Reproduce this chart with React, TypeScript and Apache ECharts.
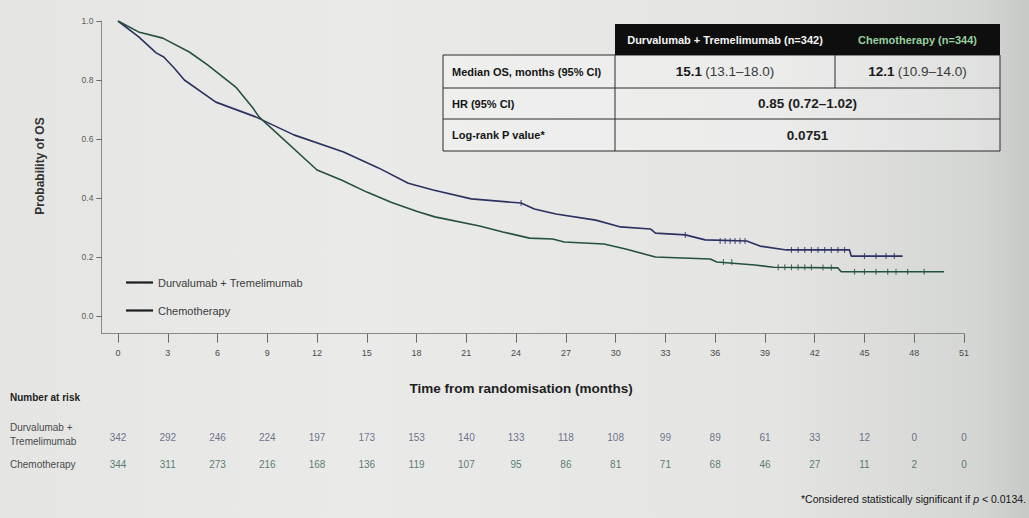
import { useEffect, useRef } from "react";
import * as echarts from "echarts";

const FONT = "'Liberation Sans', Arial, sans-serif";
const NAVY = "#2b3160";
const GREEN = "#24513f";

// Axis ticks (months / probability)
const timeTicks = [0, 3, 6, 9, 12, 15, 18, 21, 24, 27, 30, 33, 36, 39, 42, 45, 48, 51];
const probTicks = [0, 0.2, 0.4, 0.6, 0.8, 1.0];

// Kaplan–Meier overall survival, Durvalumab + Tremelimumab
const dtTime = [0, 1.25, 2.3, 2.76, 3.4, 4.0, 5.9, 8.3, 10.6, 13.6, 15.7, 17.5, 19.0, 21.3, 24.3, 25.1, 26.4, 28.8, 30.3, 32.1, 32.4, 34.2, 35.4, 37.9, 38.7, 40.3, 44.1, 44.2, 47.3];
const dtSurv = [1.0, 0.946, 0.892, 0.878, 0.84, 0.8, 0.725, 0.675, 0.614, 0.556, 0.502, 0.45, 0.427, 0.397, 0.383, 0.363, 0.346, 0.325, 0.302, 0.295, 0.281, 0.275, 0.258, 0.254, 0.237, 0.224, 0.224, 0.203, 0.203];

// Kaplan–Meier overall survival, Chemotherapy
const chTime = [0, 1.24, 2.7, 4.3, 5.4, 7.1, 8.1, 8.5, 12.0, 13.5, 15.0, 16.5, 18.0, 19.1, 21.8, 23.2, 24.8, 26.2, 26.9, 29.3, 30.6, 32.4, 35.7, 36.1, 38.4, 39.5, 43.4, 43.6, 49.8];
const chSurv = [1.0, 0.963, 0.942, 0.895, 0.851, 0.776, 0.708, 0.675, 0.495, 0.46, 0.42, 0.385, 0.355, 0.336, 0.305, 0.285, 0.264, 0.261, 0.251, 0.244, 0.227, 0.2, 0.193, 0.183, 0.173, 0.165, 0.163, 0.15, 0.15];

// Censoring marks
const dtCensorTime = [24.3, 34.2, 36.3, 36.6, 36.9, 37.2, 37.5, 37.8, 40.6, 41.0, 41.4, 41.8, 42.2, 42.6, 43.0, 43.4, 43.8, 45.0, 45.7, 46.3, 46.8];
const dtCensorSurv = [0.383, 0.275, 0.254, 0.254, 0.254, 0.254, 0.254, 0.254, 0.224, 0.224, 0.224, 0.224, 0.224, 0.224, 0.224, 0.224, 0.224, 0.203, 0.203, 0.203, 0.203];
const chCensorTime = [36.5, 37.0, 39.8, 40.2, 40.6, 41.0, 41.4, 41.8, 42.5, 43.0, 44.4, 45.0, 45.7, 46.4, 46.9, 47.6, 48.6];
const chCensorSurv = [0.183, 0.183, 0.165, 0.165, 0.165, 0.165, 0.165, 0.165, 0.164, 0.164, 0.15, 0.15, 0.15, 0.15, 0.15, 0.15, 0.15];

// Number at risk
const dtAtRisk = [342, 292, 246, 224, 197, 173, 153, 140, 133, 118, 108, 99, 89, 61, 33, 12, 0, 0];
const chAtRisk = [344, 311, 273, 216, 168, 136, 119, 107, 95, 86, 81, 71, 68, 46, 27, 11, 2, 0];

const DT_NAME = "Durvalumab + Tremelimumab";
const CH_NAME = "Chemotherapy";

const pairs = (xs: number[], ys: number[]) => xs.map((x, i) => [x, ys[i]]);

function tableGraphics() {
  const L = 443, C1 = 615, C2 = 835, R = 1000;
  const HT = 24, T = 55, R1 = 88, R2 = 119, B = 151;
  const stroke = { stroke: "#2a2a2a", lineWidth: 1 };
  const txt = (x: number, y: number, text: string, extra: any = {}) => ({
    type: "text",
    x,
    y,
    style: {
      text,
      fontFamily: FONT,
      fontSize: 11,
      fill: "#151515",
      textVerticalAlign: "middle",
      ...extra,
    },
  });
  const rich = {
    b: { fontFamily: FONT, fontSize: 13.5, fontWeight: "bold", fill: "#1a1a1a" },
    n: { fontFamily: FONT, fontSize: 13.5, fill: "#3a3a3a" },
  };
  return [
    { type: "rect", shape: { x: L, y: T, width: R - L, height: B - T }, style: { fill: "rgba(255,255,255,0.28)", ...stroke } },
    { type: "rect", shape: { x: C1, y: HT, width: R - C1, height: T - HT }, style: { fill: "#0e0e0e" } },
    { type: "line", shape: { x1: L, y1: R1, x2: R, y2: R1 }, style: stroke },
    { type: "line", shape: { x1: L, y1: R2, x2: R, y2: R2 }, style: stroke },
    { type: "line", shape: { x1: C1, y1: T, x2: C1, y2: B }, style: stroke },
    { type: "line", shape: { x1: C2, y1: T, x2: C2, y2: R1 }, style: stroke },
    txt((C1 + C2) / 2, (HT + T) / 2, "Durvalumab + Tremelimumab (n=342)", { fill: "#f4f4f4", fontWeight: "bold", textAlign: "center" }),
    txt((C2 + R) / 2, (HT + T) / 2, "Chemotherapy (n=344)", { fill: "#98cf9f", fontWeight: "bold", textAlign: "center" }),
    txt(L + 9, (T + R1) / 2, "Median OS, months (95% CI)", { fontWeight: "bold" }),
    txt(L + 9, (R1 + R2) / 2, "HR (95% CI)", { fontWeight: "bold" }),
    txt(L + 9, (R2 + B) / 2, "Log-rank P value*", { fontWeight: "bold" }),
    txt((C1 + C2) / 2, (T + R1) / 2, "{b|15.1} {n|(13.1–18.0)}", { textAlign: "center", rich }),
    txt((C2 + R) / 2, (T + R1) / 2, "{b|12.1} {n|(10.9–14.0)}", { textAlign: "center", rich }),
    txt((C1 + R) / 2, (R1 + R2) / 2, "0.85 (0.72–1.02)", { textAlign: "center", fontSize: 13.5, fontWeight: 600, fill: "#1e1e1e" }),
    txt((C1 + R) / 2, (R2 + B) / 2, "0.0751", { textAlign: "center", fontSize: 13.5, fontWeight: 600, fill: "#1e1e1e" }),
  ];
}

export default function App() {
  const ref = useRef<HTMLDivElement>(null);

  useEffect(() => {
    if (!ref.current) return;
    const chart = echarts.init(ref.current, undefined, { renderer: "svg" });
    const gridLeft = 101.4;
    const gridRight = 65;

    const riskLabel = (color: string) => ({
      show: true,
      position: "inside",
      formatter: (p: any) => String(p.value[2]),
      fontFamily: FONT,
      fontSize: 10,
      color,
    });

    chart.setOption({
      animation: false,
      backgroundColor: "transparent",
      textStyle: { fontFamily: FONT },
      legend: {
        data: [DT_NAME, CH_NAME],
        orient: "vertical",
        left: 121,
        top: 272,
        itemWidth: 27,
        itemHeight: 2.2,
        itemGap: 17,
        icon: "rect",
        itemStyle: { color: "#1b1b1b" },
        textStyle: { fontFamily: FONT, fontSize: 11, color: "#3c3c3c" },
        selectedMode: false,
      },
      grid: [
        { left: gridLeft, right: gridRight, top: 21, bottom: 184.3 },
        { left: gridLeft, right: gridRight, top: 437, height: 27 },
      ],
      xAxis: [
        {
          type: "value",
          gridIndex: 0,
          min: -1,
          max: 51,
          axisLine: { show: true, onZero: false, lineStyle: { color: "#8a8a8a", width: 1 } },
          axisTick: { show: true, customValues: timeTicks, length: 9, lineStyle: { color: "#6a6a6a" } },
          axisLabel: { customValues: timeTicks, margin: 15, fontSize: 9, color: "#4a4a4a", fontFamily: FONT },
          splitLine: { show: false },
        },
        { type: "value", gridIndex: 1, min: -1, max: 51, show: false },
      ],
      yAxis: [
        {
          type: "value",
          gridIndex: 0,
          min: -0.06,
          max: 1,
          axisLine: { show: true, onZero: false, lineStyle: { color: "#8a8a8a", width: 1 } },
          axisTick: { show: true, customValues: probTicks, length: 5, lineStyle: { color: "#6a6a6a" } },
          axisLabel: {
            customValues: probTicks,
            margin: 8,
            fontSize: 8.5,
            color: "#5a5a5a",
            fontFamily: FONT,
            formatter: (v: number) => v.toFixed(1),
          },
          splitLine: { show: false },
        },
        { type: "value", gridIndex: 1, min: 0, max: 1, show: false },
      ],
      series: [
        {
          name: DT_NAME,
          type: "line",
          data: pairs(dtTime, dtSurv),
          showSymbol: false,
          lineStyle: { color: NAVY, width: 1.6 },
          itemStyle: { color: NAVY },
          z: 3,
        },
        {
          name: CH_NAME,
          type: "line",
          data: pairs(chTime, chSurv),
          showSymbol: false,
          lineStyle: { color: GREEN, width: 1.6 },
          itemStyle: { color: GREEN },
          z: 3,
        },
        {
          name: "dtCensor",
          type: "scatter",
          data: pairs(dtCensorTime, dtCensorSurv),
          symbol: "rect",
          symbolSize: [1.1, 6],
          itemStyle: { color: NAVY },
          z: 4,
        },
        {
          name: "chCensor",
          type: "scatter",
          data: pairs(chCensorTime, chCensorSurv),
          symbol: "rect",
          symbolSize: [1.1, 6],
          itemStyle: { color: GREEN },
          z: 4,
        },
        {
          name: "dtRisk",
          type: "scatter",
          xAxisIndex: 1,
          yAxisIndex: 1,
          data: timeTicks.map((t, i) => [t, 1, dtAtRisk[i]]),
          symbolSize: 1,
          itemStyle: { color: "transparent" },
          label: riskLabel("#4a4f6e"),
        },
        {
          name: "chRisk",
          type: "scatter",
          xAxisIndex: 1,
          yAxisIndex: 1,
          data: timeTicks.map((t, i) => [t, 0, chAtRisk[i]]),
          symbolSize: 1,
          itemStyle: { color: "transparent" },
          label: riskLabel("#2f5d50"),
        },
      ],
      graphic: [
        ...tableGraphics(),
        {
          type: "text",
          x: 40,
          y: 166,
          rotation: Math.PI / 2,
          style: {
            text: "Probability of OS",
            fontFamily: FONT,
            fontSize: 12,
            fontWeight: "bold",
            fill: "#333",
            textAlign: "center",
            textVerticalAlign: "middle",
          },
        },
        {
          type: "text",
          x: 521,
          y: 388,
          style: {
            text: "Time from randomisation (months)",
            fontFamily: FONT,
            fontSize: 13.5,
            fontWeight: "bold",
            fill: "#1e1e1e",
            textAlign: "center",
            textVerticalAlign: "middle",
          },
        },
        {
          type: "text",
          x: 10,
          y: 397,
          style: { text: "Number at risk", fontFamily: FONT, fontSize: 10, fontWeight: "bold", fill: "#222", textVerticalAlign: "middle" },
        },
        {
          type: "text",
          x: 10,
          y: 427,
          style: { text: "Durvalumab +", fontFamily: FONT, fontSize: 10, fill: "#4a4a4a", textVerticalAlign: "middle" },
        },
        {
          type: "text",
          x: 10,
          y: 441,
          style: { text: "Tremelimumab", fontFamily: FONT, fontSize: 10, fill: "#4a4a4a", textVerticalAlign: "middle" },
        },
        {
          type: "text",
          x: 10,
          y: 464,
          style: { text: "Chemotherapy", fontFamily: FONT, fontSize: 10, fill: "#4a4a4a", textVerticalAlign: "middle" },
        },
        {
          type: "text",
          x: 1026,
          y: 499,
          style: {
            text: "{t|*Considered statistically significant if }{i|p}{t| < 0.0134.}",
            textAlign: "right",
            textVerticalAlign: "middle",
            rich: {
              t: { fontFamily: FONT, fontSize: 10.5, fill: "#141414" },
              i: { fontFamily: FONT, fontSize: 10.5, fill: "#141414", fontStyle: "italic" },
            },
          },
        },
      ],
    });

    return () => chart.dispose();
  }, []);

  return (
    <div
      style={{
        position: "fixed",
        left: 0,
        top: 0,
        width: 1029,
        height: 518,
        background: "linear-gradient(90deg, #e5e6e4 0%, #eaebe9 35%, #e4e5e3 75%, #d4d6d4 95%, #c7c9c7 100%)",
      }}
    >
      <div ref={ref} style={{ width: 1029, height: 518 }} />
    </div>
  );
}
